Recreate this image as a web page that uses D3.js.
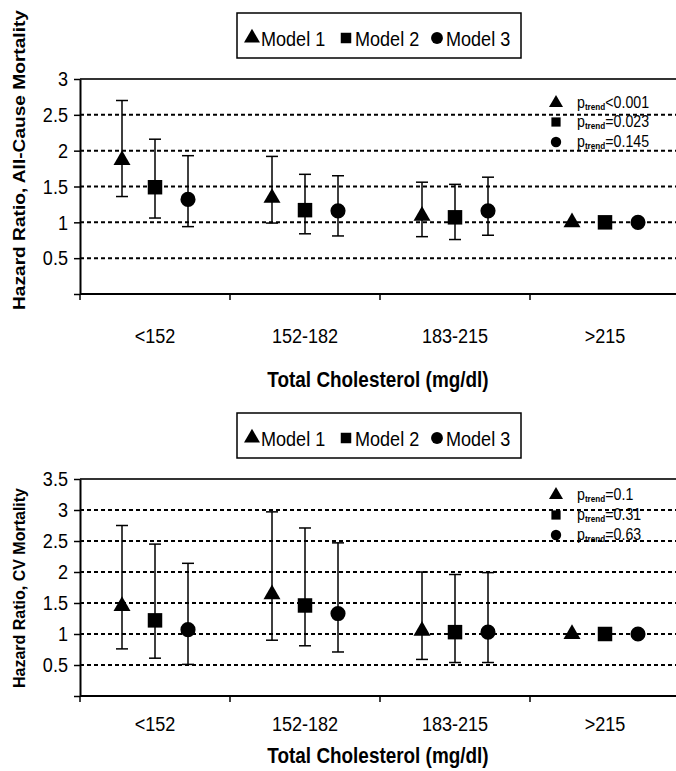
<!DOCTYPE html>
<html>
<head>
<meta charset="utf-8">
<script src="https://d3js.org/d3.v7.min.js"></script>
<style>
  body { margin: 0; background: #fff; }
  text { font-family: "Liberation Sans", Arial, sans-serif; fill: #000; }
</style>
</head>
<body>
<svg width="676" height="771"></svg>
<script>
// categories and series
const categories = ['<152', '152-182', '183-215', '>215'];
const models = ['Model 1', 'Model 2', 'Model 3'];

// all-cause mortality: [category][model]
const allCauseHR   = [[1.87, 1.49, 1.32], [1.34, 1.17, 1.16], [1.09, 1.07, 1.16], [1, 1, 1]];
const allCauseLow  = [[1.36, 1.06, 0.94], [0.99, 0.84, 0.81], [0.80, 0.76, 0.82], [null, null, null]];
const allCauseHigh = [[2.70, 2.16, 1.93], [1.92, 1.67, 1.65], [1.56, 1.53, 1.63], [null, null, null]];
const allCauseP    = ['<0.001', '=0.023', '=0.145'];
const allCauseTicks = [0, 0.5, 1, 1.5, 2, 2.5, 3];

// CV mortality
const cvHR   = [[1.45, 1.22, 1.07], [1.64, 1.46, 1.33], [1.05, 1.03, 1.03], [1, 1, 1]];
const cvLow  = [[0.76, 0.61, 0.51], [0.90, 0.81, 0.71], [0.59, 0.54, 0.54], [null, null, null]];
const cvHigh = [[2.75, 2.45, 2.14], [2.97, 2.71, 2.47], [2.00, 1.96, 1.99], [null, null, null]];
const cvP    = ['=0.1', '=0.31', '=0.63'];
const cvTicks = [0, 0.5, 1, 1.5, 2, 2.5, 3, 3.5];

const svg = d3.select('svg');
const shapes = [d3.symbolTriangle, d3.symbolSquare, d3.symbolCircle];
const sizes = [125, 210, 180];
const SX = 0.86; // text looks condensed in the original

const x = d3.scaleBand().domain(categories).range([80, 680]);
const off = d3.scalePoint().domain(models).range([-33, 33]);

// text placed at (tx,ty) and squeezed horizontally
function label(g, tx, ty, size) {
  return g.append('text').attr('transform', 'translate(' + tx + ',' + ty + ') scale(' + SX + ',1)')
    .style('font-size', size + 'px');
}

function panel(o) {
  const g = svg.append('g');
  const y = d3.scaleLinear().domain([0, d3.max(o.ticks)]).range([o.bottom, o.top]);

  // legend box
  g.append('rect').attr('x', 237).attr('y', o.top - 66).attr('width', 284).attr('height', 45)
    .attr('fill', 'none').attr('stroke', '#000').attr('stroke-width', 1.5);
  const lx = [252, 346, 437];
  models.forEach(function(m, i) {
    g.append('path').attr('d', d3.symbol().type(shapes[i]).size(110)())
      .attr('transform', 'translate(' + lx[i] + ',' + (o.top - 41) + ')');
    label(g, lx[i] + 9, o.top - 33, 21).text(m);
  });

  // gridlines
  g.selectAll('.grid').data(o.ticks.slice(1, -1)).enter().append('line')
    .attr('x1', 80).attr('x2', 676).attr('y1', d => y(d)).attr('y2', d => y(d))
    .attr('stroke', '#000').attr('stroke-width', 2).attr('stroke-dasharray', '4,3');
  g.append('line').attr('x1', 80).attr('x2', 676).attr('y1', o.top).attr('y2', o.top)
    .attr('stroke', '#333').attr('stroke-width', 2);

  // y axis
  const ya = g.append('g').attr('transform', 'translate(80,0)')
    .call(d3.axisLeft(y).tickValues(o.ticks).tickSize(6).tickSizeOuter(0)
      .tickFormat(d => d === 0 ? '' : d));
  ya.select('.domain').attr('stroke-width', 2);
  ya.selectAll('.tick line').attr('stroke-width', 1.5);
  ya.selectAll('text').style('font-size', '21px').style('font-family', null)
    .attr('x', -14).attr('transform', 'scale(' + SX + ',1)');

  // x axis
  const xa = g.append('g').attr('transform', 'translate(0,' + o.bottom + ')')
    .call(d3.axisBottom(x).tickSize(0).tickPadding(o.labelPad));
  xa.select('.domain').remove();
  xa.selectAll('text').style('font-size', '21px').style('font-family', null)
    .attr('transform', 'scale(' + SX + ',1)');
  g.append('line').attr('x1', 80).attr('x2', 676).attr('y1', o.bottom).attr('y2', o.bottom)
    .attr('stroke', '#000').attr('stroke-width', 2);
  g.selectAll('.xt').data(categories).enter().append('line')
    .attr('x1', d => x(d)).attr('x2', d => x(d))
    .attr('y1', o.bottom).attr('y2', o.bottom + 6)
    .attr('stroke', '#000').attr('stroke-width', 1.5);

  label(g, 378, o.bottom + o.titlePad, 22).attr('text-anchor', 'middle')
    .style('font-weight', 'bold').text('Total Cholesterol (mg/dl)');

  g.append('text').attr('transform', 'translate(25,' + o.labelY + ') rotate(-90)')
    .attr('text-anchor', 'middle').style('font-size', '17px').style('font-weight', 'bold')
    .attr('textLength', o.labelLen).attr('lengthAdjust', 'spacingAndGlyphs')
    .text(o.label);

  // p trend legend
  o.p.forEach(function(p, i) {
    const py = o.pY[i];
    g.append('path').attr('d', d3.symbol().type(shapes[i]).size(85)())
      .attr('transform', 'translate(556,' + py + ')');
    const t = label(g, 577, py + 5, 16.5);
    t.append('tspan').text('p');
    t.append('tspan').attr('dy', 2).style('font-size', '9.5px').style('font-weight', 'bold').text('trend');
    t.append('tspan').attr('dy', -2).text(p);
  });

  // error bars and markers
  categories.forEach(function(c, ci) {
    models.forEach(function(m, mi) {
      const cx = x(c) + x.bandwidth() / 2 + off(m);
      const lo = o.low[ci][mi], hi = o.high[ci][mi];
      if (lo !== null) {
        g.append('line').attr('x1', cx).attr('x2', cx).attr('y1', y(lo)).attr('y2', y(hi))
          .attr('stroke', '#000').attr('stroke-width', 1.5);
        [lo, hi].forEach(function(v) {
          g.append('line').attr('x1', cx - 6).attr('x2', cx + 6).attr('y1', y(v)).attr('y2', y(v))
            .attr('stroke', '#000').attr('stroke-width', 1.5);
        });
      }
      g.append('path').attr('d', d3.symbol().type(shapes[mi]).size(sizes[mi])())
        .attr('transform', 'translate(' + cx + ',' + y(o.hr[ci][mi]) + ')');
    });
  });
}

panel({ top: 79, bottom: 294, ticks: allCauseTicks, hr: allCauseHR, low: allCauseLow, high: allCauseHigh,
  p: allCauseP, pY: [103, 122, 142], label: 'Hazard Ratio, All-Cause Mortality', labelY: 160, labelLen: 300,
  labelPad: 34, titlePad: 93 });
panel({ top: 479, bottom: 696, ticks: cvTicks, hr: cvHR, low: cvLow, high: cvHigh,
  p: cvP, pY: [495, 515, 535], label: 'Hazard Ratio, CV Mortality', labelY: 588, labelLen: 200,
  labelPad: 20, titlePad: 67 });
</script>
</body>
</html>
